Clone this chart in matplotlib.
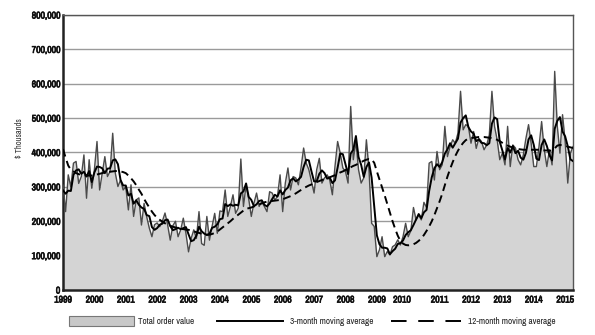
import numpy as np
import matplotlib
matplotlib.use("Agg")
import matplotlib.pyplot as plt
from matplotlib.patches import Rectangle
from matplotlib.lines import Line2D
from matplotlib.ticker import FuncFormatter
from matplotlib import font_manager
import matplotlib.patheffects as pe

# ---- data ($ thousands, in units of 1,000 on the axis) ----
start_year = 1999
total_order_value = [
    305, 228, 335, 300, 369, 374, 310, 330, 393, 267, 379, 296,   # 1999
    350, 432, 291, 340, 388, 330, 345, 456, 340, 301, 320, 291,   # 2000
    300, 233, 306, 214, 262, 268, 189, 252, 213, 180, 155, 190,   # 2001
    195, 184, 200, 224, 190, 145, 187, 200, 155, 175, 209, 165,   # 2002
    111, 150, 175, 150, 228, 135, 130, 214, 145, 185, 223, 165,   # 2003
    230, 228, 291, 214, 243, 277, 223, 238, 381, 243, 306, 265,   # 2004
    214, 252, 282, 243, 257, 243, 228, 286, 282, 262, 272, 335,   # 2005
    228, 311, 355, 291, 330, 326, 306, 355, 413, 369, 350, 316,   # 2006
    282, 350, 383, 311, 326, 335, 320, 277, 360, 432, 398, 355,   # 2007
    345, 311, 534, 379, 432, 350, 311, 326, 437, 350, 194, 185,   # 2008
    97, 117, 155, 97, 112, 102, 126, 131, 146, 131, 155, 194,     # 2009
    155, 172, 240, 204, 218, 204, 255, 240, 369, 374, 320, 403,   # 2010
    350, 364, 476, 388, 417, 437, 427, 456, 578, 466, 481, 476,   # 2011
    427, 461, 412, 441, 432, 408, 422, 451, 578, 476, 437, 379,   # 2012
    398, 364, 476, 359, 422, 413, 379, 364, 393, 441, 481, 427,   # 2013
    359, 359, 417, 490, 408, 359, 408, 364, 636, 476, 398, 510,   # 2014
    432, 311, 398, 417,                                           # 2015
]
ma_3_month = [
    290, 280, 289, 288, 335, 348, 351, 338, 344, 330, 346, 314,
    342, 359, 358, 354, 340, 353, 354, 377, 380, 366, 320, 304,
    304, 275, 280, 251, 261, 248, 240, 236, 218, 215, 183, 175,
    180, 190, 193, 203, 205, 186, 174, 177, 181, 177, 180, 183,
    162, 142, 145, 158, 184, 171, 164, 160, 163, 181, 184, 191,
    206, 208, 250, 244, 249, 245, 248, 246, 281, 287, 310, 271,
    262, 244, 249, 259, 261, 248, 243, 252, 265, 277, 272, 290,
    278, 291, 298, 319, 325, 316, 321, 329, 358, 379, 377, 345,
    316, 316, 338, 348, 340, 324, 327, 311, 319, 356, 397, 395,
    366, 337, 397, 408, 448, 387, 364, 329, 358, 371, 327, 243,
    159, 133, 123, 123, 121, 104, 113, 120, 134, 136, 144, 160,
    168, 174, 189, 205, 221, 209, 226, 233, 288, 328, 354, 366,
    358, 372, 397, 409, 427, 414, 427, 440, 487, 500, 508, 474,
    461, 455, 433, 438, 428, 427, 421, 427, 484, 502, 497, 431,
    405, 380, 413, 400, 419, 398, 405, 385, 379, 399, 438, 450,
    422, 382, 378, 422, 438, 419, 392, 377, 469, 492, 503, 461,
    447, 418, 380, 375,
]
ma_12_month = [
    410, 385, 362, 350, 345, 340, 337, 335, 334, 333, 333, 333,
    334, 336, 338, 340, 342, 343, 344, 345, 346, 346, 345, 343,
    340, 333, 325, 316, 305, 292, 280, 265, 252, 240, 228, 218,
    210, 204, 199, 194, 190, 187, 184, 182, 180, 178, 177, 176,
    175, 173, 171, 168, 166, 164, 162, 161, 161, 163, 166, 170,
    176, 182, 188, 194, 200, 207, 213, 219, 225, 231, 236, 238,
    240, 243, 246, 249, 252, 255, 257, 258, 259, 260, 261, 262,
    264, 267, 270, 273, 277, 281, 286, 291, 296, 300, 304, 307,
    311, 314, 317, 320, 323, 325, 328, 331, 334, 338, 342, 345,
    349, 353, 357, 361, 364, 368, 372, 376, 379, 381, 380, 370,
    345, 322, 300, 275, 250, 225, 200, 178, 158, 143, 135, 131,
    130, 131, 133, 137, 143, 150, 160, 172, 185, 200, 218, 238,
    258, 280, 305, 330, 352, 372, 390, 405, 418, 428, 436, 440,
    442, 443, 444, 445, 445, 445, 444, 443, 442, 440, 437, 433,
    428, 423, 420, 417, 414, 412, 410, 409, 408, 408, 408, 408,
    408, 408, 408, 407, 406, 406, 405, 406, 412, 420, 422, 421,
    419, 417, 415, 413,
]
year_labels = [str(y) for y in range(1999, 2016)]
y_ticks = [0, 100000, 200000, 300000, 400000, 500000, 600000, 700000, 800000]
legend_labels = ["Total order value", "3-month moving average", "12-month moving average"]
y_label = "$ Thousands"

# ---- derived x positions (monthly) ----
n = len(total_order_value)
x = start_year + np.arange(n) / 12.0
tov = np.array(total_order_value) * 1000
ma3 = np.array(ma_3_month) * 1000
ma12 = np.array(ma_12_month) * 1000

# pick a narrow font if one is installed, otherwise shrink DejaVu Sans
narrow = None
for f in font_manager.fontManager.ttflist:
    nm = f.name.lower()
    if ("narrow" in nm or "condensed" in nm) and "mono" not in nm and "serif" not in nm:
        narrow = f.name
        break
if narrow:
    FONT = [narrow, "DejaVu Sans"]
    TICK_FS, LEG_FS, YL_FS = 7.0, 6.6, 6.0
else:
    FONT = ["DejaVu Sans"]
    TICK_FS, LEG_FS, YL_FS = 5.4, 5.2, 4.8

W, H = 595, 335
fig = plt.figure(figsize=(W / 100, H / 100), dpi=100)
L, R, T, B = 63, 573, 15, 290
ax = fig.add_axes([L / W, 1 - B / H, (R - L) / W, (B - T) / H])

ax.fill_between(x, 0, tov, color="#d4d4d4", lw=0, zorder=1)
ax.plot(x, tov, color="#4a4a4a", lw=1.0, zorder=3)
ax.plot(x, ma3, color="#000000", lw=1.4, zorder=4)
ax.plot(x, ma12, color="#000000", lw=1.4, ls=(0, (4, 2.4)), zorder=5)

ax.set_xlim(start_year, x[-1])
ax.set_ylim(0, 800000)
ax.set_yticks(y_ticks)
ax.yaxis.set_major_formatter(FuncFormatter(lambda v, p: f"{int(v):,}"))
ax.grid(axis="y", color="#9a9a9a", lw=1.0, zorder=0)
ax.set_axisbelow(True)

# year labels (2010 label sits slightly left in the original)
xpos = [1999 + i for i in range(len(year_labels))]
xpos[year_labels.index("2010")] = 2009.8
ax.set_xticks(xpos)
ax.set_xticklabels(year_labels)
ax.tick_params(axis="x", length=0, pad=4)
ax.tick_params(axis="y", length=0, pad=2)
bold = [pe.withStroke(linewidth=0.5, foreground="#111111")]
for lab in ax.get_xticklabels() + ax.get_yticklabels():
    lab.set_family(FONT)
    lab.set_fontsize(TICK_FS)
    lab.set_fontweight("bold")
    lab.set_color("#111111")
    lab.set_path_effects(bold)

for s in ["top", "right"]:
    ax.spines[s].set_color("#555555")
    ax.spines[s].set_linewidth(1.0)
for s in ["left", "bottom"]:
    ax.spines[s].set_color("#222222")
    ax.spines[s].set_linewidth(1.8)

fig.text(20 / W, 1 - 138 / H, y_label, rotation=90, ha="center", va="center",
         fontsize=YL_FS, family=FONT, color="#333333")

# legend row
ly = 1 - 321 / H
fig.patches.append(Rectangle((69 / W, 1 - 326 / H), 65 / W, 10 / H,
                             transform=fig.transFigure, facecolor="#c8c8c8",
                             edgecolor="#777777", lw=0.8))
fig.text(138 / W, ly, legend_labels[0], fontsize=LEG_FS, family=FONT, va="center", color="#222222")
fig.lines.append(Line2D([217 / W, 283 / W], [ly, ly], transform=fig.transFigure,
                        color="black", lw=1.4))
fig.text(290 / W, ly, legend_labels[1], fontsize=LEG_FS, family=FONT, va="center", color="#222222")
fig.lines.append(Line2D([391 / W, 461 / W], [ly, ly], transform=fig.transFigure,
                        color="black", lw=1.4, ls=(0, (8, 6))))
fig.text(468 / W, ly, legend_labels[2], fontsize=LEG_FS, family=FONT, va="center", color="#222222")

fig.savefig("out.png", dpi=100)
